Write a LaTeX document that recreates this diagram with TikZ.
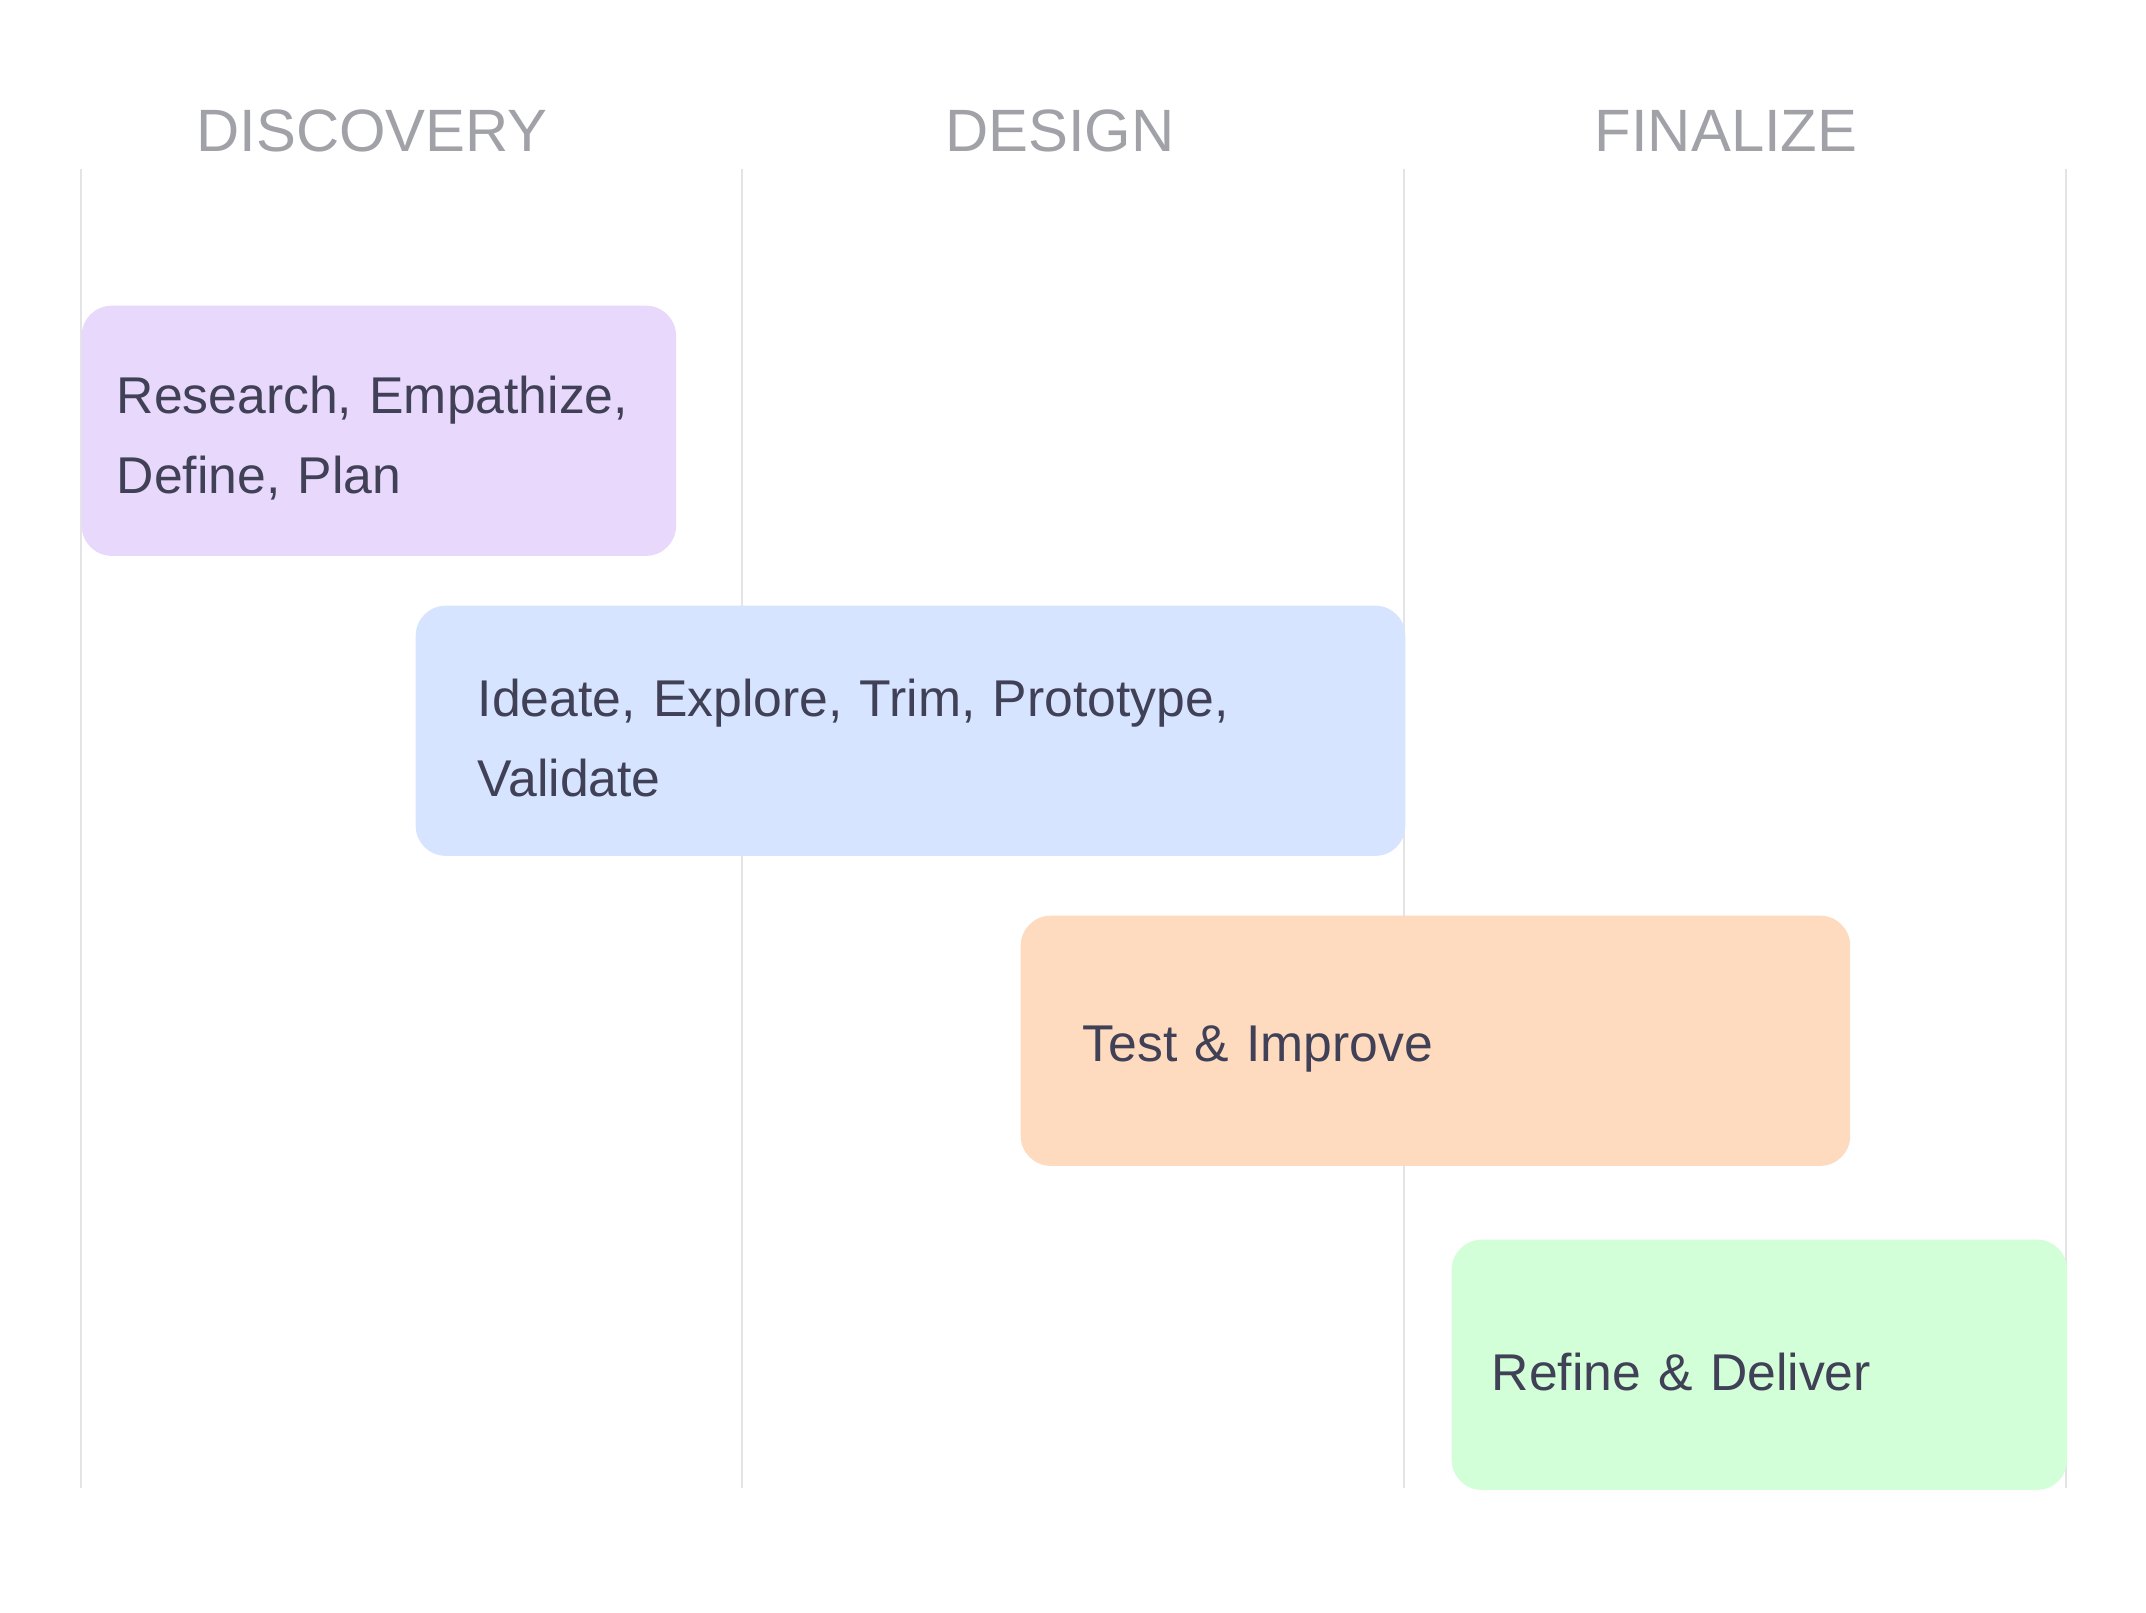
\documentclass[tikz,border=0pt]{standalone}
\usepackage{fontspec}
\setmainfont{Liberation Sans}
\usepackage{xcolor}
\usepackage{tikz}
\usetikzlibrary{positioning}

\definecolor{headgray}{RGB}{161,161,168}
\definecolor{taskink}{RGB}{64,64,86}
\definecolor{lanegray}{RGB}{228,228,231}
\definecolor{discfill}{RGB}{232,216,252}
\definecolor{desfill}{RGB}{214,228,255}
\definecolor{testfill}{RGB}{254,218,191}
\definecolor{finfill}{RGB}{210,254,216}

\begin{document}
\begin{tikzpicture}[x=0.01cm,y=-0.01cm,
  phase/.style={
   text=headgray,
   anchor=base,
   font=\fontsize{17}{20}\selectfont
  },
  task/.style={
   anchor=north west,
   rounded corners=0.3cm,
   minimum height=2.5cm,
   inner ysep=0pt,
   align=left,
   text=taskink,
   font=\fontsize{14.7}{22.8}\selectfont,
   execute at begin node={\rule{0pt}{0.52cm}}
  },
  lane/.style={
   draw=lanegray,
   line width=0.45pt
  }]
	\fill[white] (0,0) rectangle (2146,1613);
	\useasboundingbox (0,0) rectangle (2146,1613);

	\node[phase] (disc) at (372,152) {DISCOVERY};
	\node[phase] (des) at (1060,152) {DESIGN};
	\node[phase] (fin) at (1726,152) {FINALIZE};

	\foreach \x in {81,742,1404,2066}
		\draw[lane] (\x,169) -- (\x,1488);

	\node[task,fill=discfill,inner xsep=0.35cm,text width=5.24cm] at (81,305) 
		  (research) {Research, Empathize,\\Define, Plan};
	\node[task,fill=desfill,inner xsep=0.62cm,text width=8.65cm] at (415,605) 
		  (ideate) {Ideate, Explore, Trim, Prototype,\\Validate};
	\node[task,fill=testfill,inner xsep=0.62cm,text width=7.05cm] at (1020,915) 
		  (test) {Test \& Improve};
	\node[task,fill=finfill,inner xsep=0.40cm,text width=5.35cm] at (1451,1239) 
		  (refine) {Refine \& Deliver};

\end{tikzpicture}
\end{document}
